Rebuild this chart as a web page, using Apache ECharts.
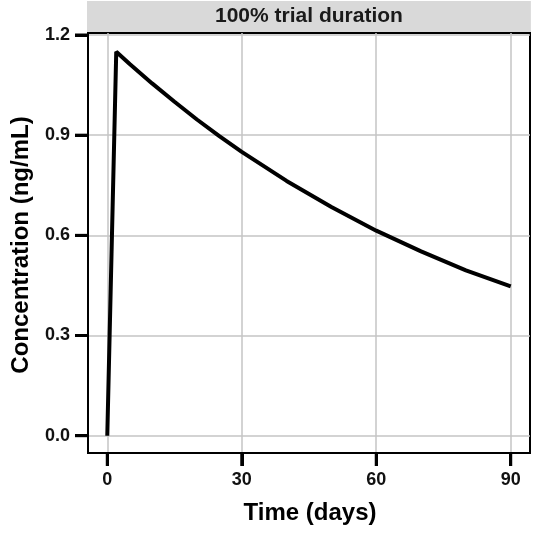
<!DOCTYPE html>
<html>
<head>
<meta charset="utf-8">
<script src="https://cdn.jsdelivr.net/npm/echarts@6/dist/echarts.min.js"></script>
<style>html,body{margin:0;padding:0;background:#fff}#c{width:539px;height:534px}</style>
</head>
<body>
<div id="c"></div>
<script>
// Data
const days = [0, 2, 5, 10, 15, 20, 25, 30, 40, 50, 60, 70, 80, 90];
const concentration = [0, 1.15, 1.113, 1.055, 1.0, 0.947, 0.897, 0.85, 0.763, 0.685, 0.614, 0.552, 0.495, 0.447];
const xTicks = [0, 30, 60, 90];
const yTicks = [0, 0.3, 0.6, 0.9, 1.2];
const stripLabel = '100% trial duration';
const xTitle = 'Time (days)';
const yTitle = 'Concentration (ng/mL)';

const FONT = '"Liberation Sans", Arial, sans-serif';
const chart = echarts.init(document.getElementById('c'));
const pts = days.map((d, i) => [d, concentration[i]]);
const X_MIN = -4.3, X_MAX = 94.3, Y_MIN = -0.0518, Y_MAX = 1.206;
const TICK_LEN = 13;

const titleGraphics = [
  {type: 'text', x: 310, y: 513, style: {text: xTitle, fontFamily: FONT, fontWeight: 'bold', fontSize: 24, fill: '#000', align: 'center', verticalAlign: 'middle'}, z: 5},
  {type: 'text', x: 21, y: 245, rotation: Math.PI / 2, style: {text: yTitle, fontFamily: FONT, fontWeight: 'bold', fontSize: 24, fill: '#000', align: 'center', verticalAlign: 'middle'}, z: 5}
];

try {
  chart.setOption({
    animation: false,
    backgroundColor: '#fff',
    title: {
      text: stripLabel, left: 87, top: 1, padding: [5, 128, 5, 128], backgroundColor: '#d9d9d9',
      textStyle: {fontFamily: FONT, fontWeight: 'bold', fontSize: 21, lineHeight: 21, color: '#1a1a1a'}
    },
    graphic: titleGraphics,
    grid: {left: 88, right: 9, top: 33, bottom: 81, show: true, borderColor: '#000', borderWidth: 2, backgroundColor: 'transparent'},
    xAxis: {
      type: 'value', min: X_MIN, max: X_MAX,
      axisLine: {show: true, onZero: false, lineStyle: {color: '#000', width: 2}},
      axisTick: {show: true, length: TICK_LEN, lineStyle: {color: '#000', width: 3}, customValues: xTicks},
      axisLabel: {customValues: xTicks, margin: 18, fontFamily: FONT, fontWeight: 'bold', fontSize: 18, color: '#111'},
      splitLine: {lineStyle: {color: '#c4c4c4', width: 1.5}}
    },
    yAxis: {
      type: 'value', min: Y_MIN, max: Y_MAX,
      axisLine: {show: true, onZero: false, lineStyle: {color: '#000', width: 2}},
      axisTick: {show: true, length: TICK_LEN, lineStyle: {color: '#000', width: 3}, customValues: yTicks},
      axisLabel: {customValues: yTicks, margin: 18, fontFamily: FONT, fontWeight: 'bold', fontSize: 18, color: '#111', formatter: v => v.toFixed(1)},
      splitLine: {lineStyle: {color: '#c4c4c4', width: 1.5}}
    },
    series: [{
      type: 'line', data: pts, showSymbol: false, smooth: false,
      lineStyle: {color: '#000', width: 4}
    }]
  });
} catch (e) { /* continue to draw ticks below */ }

try {
  // Tick marks placed through the chart's own scales (same spot as the axis ticks)
  const tickGraphics = [];
  xTicks.forEach(v => {
    const p = chart.convertToPixel({gridIndex: 0}, [v, Y_MIN]);
    tickGraphics.push({type: 'line', shape: {x1: p[0], y1: p[1], x2: p[0], y2: p[1] + TICK_LEN}, style: {stroke: '#000', lineWidth: 3}, z: 10});
  });
  yTicks.forEach(v => {
    const p = chart.convertToPixel({gridIndex: 0}, [X_MIN, v]);
    tickGraphics.push({type: 'line', shape: {x1: p[0] - TICK_LEN, y1: p[1], x2: p[0], y2: p[1]}, style: {stroke: '#000', lineWidth: 3}, z: 10});
  });
  chart.setOption({graphic: titleGraphics.concat(tickGraphics)});
} catch (e) { }
</script>
</body>
</html>
